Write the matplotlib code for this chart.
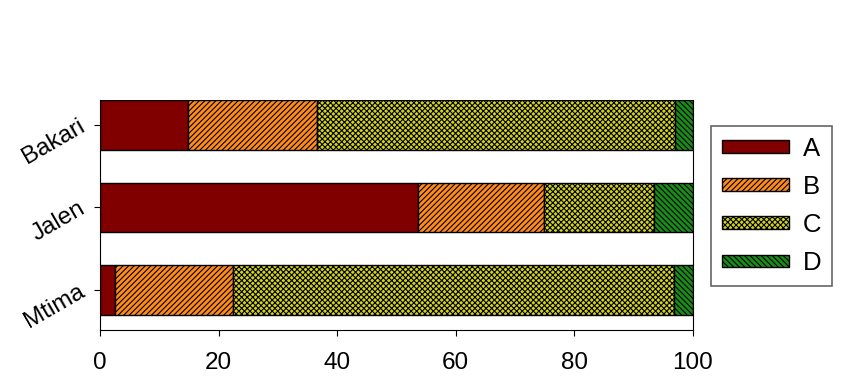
import numpy as np
import matplotlib.pyplot as plt

# Data
names = ['Mtima', 'Jalen', 'Bakari']
a = [2.5, 53.6, 14.8]
b = [19.9, 21.3, 21.8]
c = [74.4, 18.5, 60.4]
d = [3.2, 6.6, 3.0]

series = [a, b, c, d]
labels = ['A', 'B', 'C', 'D']
colors = ['#800000', '#ff8c1a', '#d4d41a', '#1a8c1a']
hatches = ['', '//////', 'xxxxxx', '\\\\\\\\\\\\']

plt.rcParams['font.family'] = ['Liberation Sans', 'DejaVu Sans']
plt.rcParams['hatch.linewidth'] = 0.8

fig = plt.figure(figsize=(8.5, 3.79), dpi=100)
ax = fig.add_axes([100/850, 1 - 330/379, 593/850, 230/379])

y = np.arange(len(names))
left = np.zeros(len(names))
for vals, lab, col, h in zip(series, labels, colors, hatches):
    ax.barh(y, vals, left=left, height=0.6, color=col, hatch=h,
            edgecolor='black', linewidth=1.0, label=lab)
    left += np.array(vals)

ax.set_xlim(0, 100)
ax.set_ylim(-0.485, 2.3)
ax.set_xticks([0, 20, 40, 60, 80, 100])
ax.set_yticks(y)
ax.set_yticklabels(names, rotation=30, ha='right', va='center', rotation_mode='anchor')
ax.tick_params(axis='both', labelsize=17.5, direction='out', length=4)
ax.tick_params(axis='x', pad=12)
ax.tick_params(axis='y', pad=8)
ax.spines['top'].set_visible(False)

leg = ax.legend(loc='upper left', bbox_to_anchor=(711/850, 1 - 126/379),
                bbox_transform=fig.transFigure, borderaxespad=0, fontsize=18.5,
                frameon=True, fancybox=False, edgecolor='#404040',
                handlelength=2.6, handleheight=0.4, handletextpad=0.55,
                labelspacing=0.55, borderpad=0.42)
leg.get_frame().set_linewidth(1.2)

fig.savefig('out.png', dpi=100)
